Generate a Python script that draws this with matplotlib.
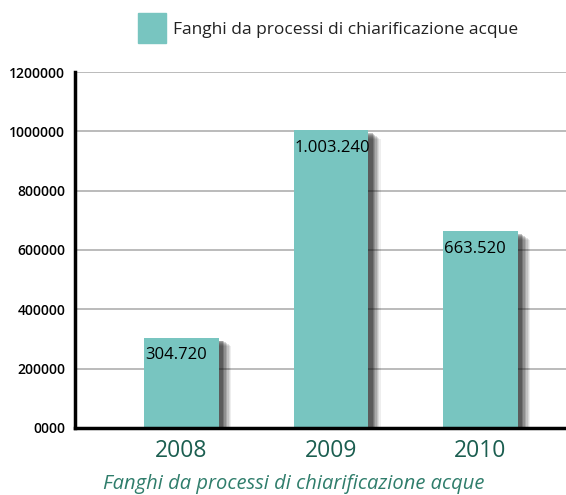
import matplotlib
matplotlib.use('Agg')
import matplotlib.pyplot as plt
import matplotlib.patheffects as pe
from matplotlib.patches import Patch

# Dati
anni = ['2008', '2009', '2010']
fanghi = [304720, 1003240, 663520]
etichette = ['304.720', '1.003.240', '663.520']
tick_y = [0, 200000, 400000, 600000, 800000, 1000000, 1200000]
tick_y_labels = ['0000', '200000', '400000', '600000', '800000', '1000000', '1200000']
nome_serie = 'Fanghi da processi di chiarificazione acque'

colore_barra = '#78c5c0'
verde_scuro = '#1b5e50'
verde_titolo = '#2f7d6b'

plt.rcParams['font.family'] = ['Open Sans', 'DejaVu Sans']

fig = plt.figure(figsize=(5.66, 4.95), dpi=100)
ax = fig.add_axes([0.1325, 0.1354, 0.8675, 0.7191])

x = list(range(len(anni)))

# Ombra sfumata: più strati con offset diversi
ombra = []
for off, a in [(9, 0.07), (8, 0.09), (7, 0.11), (6, 0.14), (5, 0.17), (4, 0.2), (3, 0.25)]:
    ombra.append(pe.SimplePatchShadow(offset=(off, -off * 0.7), shadow_rgbFace='#111111', alpha=a))
ombra.append(pe.Normal())

bars = ax.bar(x, fanghi, width=0.5, color=colore_barra, zorder=3)
for b in bars:
    b.set_path_effects(ombra)

# Etichette dei valori dentro le barre
for b, testo in zip(bars, etichette):
    ax.annotate(testo, xy=(b.get_x(), b.get_height()), xytext=(1, -7),
                textcoords='offset points', ha='left', va='top',
                fontsize=12, color='black', zorder=4)

ax.set_ylim(0, 1200000)
ax.set_xlim(-0.712, 2.572)
ax.set_yticks(tick_y)
ax.set_yticklabels(tick_y_labels, fontsize=10, fontweight='semibold')
ax.set_xticks(x)
ax.set_xticklabels(anni, fontsize=16.5, color=verde_scuro)
ax.tick_params(axis='both', length=0)
ax.tick_params(axis='y', pad=7)
ax.tick_params(axis='x', pad=8)

ax.grid(axis='y', color='#b5b5b5', linewidth=1.3, zorder=0)
ax.set_axisbelow(True)
for s in ['top', 'right']:
    ax.spines[s].set_visible(False)
ax.spines['left'].set_linewidth(2.5)
ax.spines['bottom'].set_linewidth(2.5)
ax.spines['left'].set_zorder(5)
ax.spines['bottom'].set_zorder(5)

# Legenda in alto
ax.legend(handles=[Patch(color=colore_barra, label=nome_serie)],
          loc='center', bbox_to_anchor=(0.515, 1.123), frameon=False,
          fontsize=12.5, handlelength=1.65, handleheight=2.3, handletextpad=0.4,
          labelcolor='#222222')

# Titolo in basso
fig.text(0.518, 1 - 484 / 495, nome_serie, style='italic',
         fontsize=14.5, color=verde_titolo, ha='center', va='center')

plt.savefig('out.png', dpi=100)
